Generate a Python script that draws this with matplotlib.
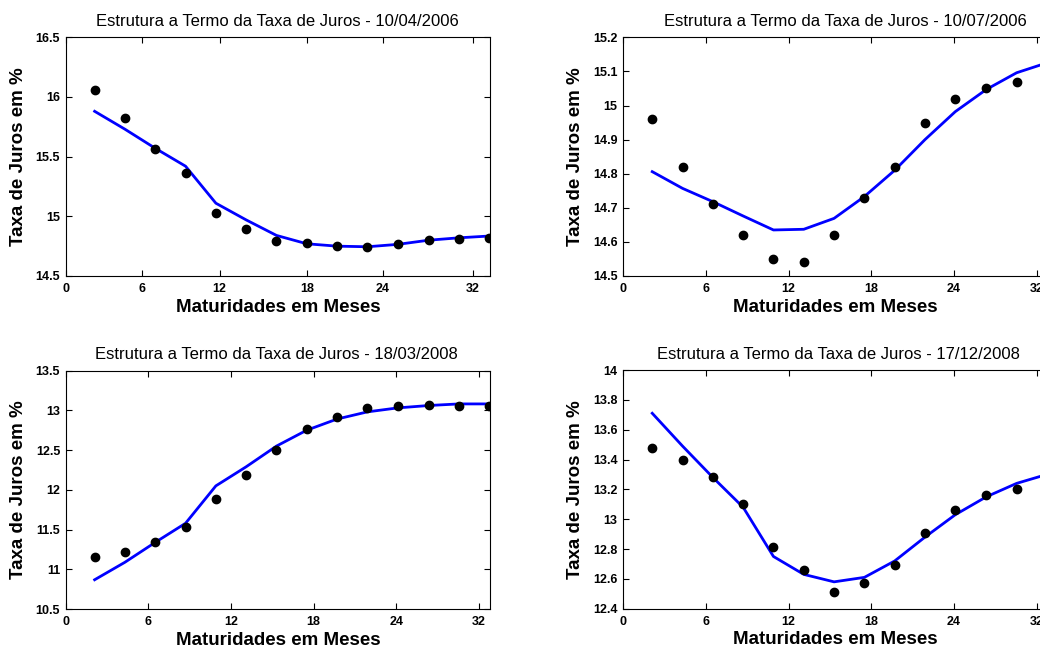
import numpy as np
import matplotlib
matplotlib.use("Agg")
import matplotlib.pyplot as plt
from matplotlib.ticker import FormatStrFormatter

plt.rcParams.update({"font.family": "Liberation Sans", "axes.linewidth": 0.8})

# maturities (x positions of the observed vertices, tick-scale units)
mat = [2.1, 4.3, 6.5, 8.7, 10.9, 13.1, 15.3, 17.5, 19.7, 21.9, 24.1, 26.35, 28.55, 30.75]

titles = ["Estrutura a Termo da Taxa de Juros - 10/04/2006",
          "Estrutura a Termo da Taxa de Juros - 10/07/2006",
          "Estrutura a Termo da Taxa de Juros - 18/03/2008",
          "Estrutura a Termo da Taxa de Juros - 17/12/2008"]

obs_1 = [16.06, 15.82, 15.56, 15.36, 15.03, 14.89, 14.79, 14.78, 14.75, 14.74, 14.77, 14.80, 14.81, 14.82]
fit_1 = [15.88, 15.73, 15.57, 15.42, 15.11, 14.97, 14.84, 14.77, 14.75, 14.745, 14.765, 14.80, 14.82, 14.835]

obs_2 = [14.96, 14.82, 14.71, 14.62, 14.55, 14.54, 14.62, 14.73, 14.82, 14.95, 15.02, 15.05, 15.07, 15.08]
fit_2 = [14.806, 14.757, 14.718, 14.676, 14.635, 14.637, 14.669, 14.733, 14.81, 14.90, 14.982, 15.047, 15.096, 15.125]

obs_3 = [11.15, 11.22, 11.35, 11.53, 11.89, 12.19, 12.50, 12.76, 12.92, 13.03, 13.06, 13.07, 13.05, 13.05]
fit_3 = [10.87, 11.09, 11.34, 11.58, 12.05, 12.29, 12.55, 12.75, 12.89, 12.98, 13.03, 13.06, 13.08, 13.08]

obs_4 = [13.48, 13.40, 13.28, 13.10, 12.815, 12.66, 12.51, 12.57, 12.69, 12.91, 13.06, 13.16, 13.20, 13.25]
fit_4 = [13.71, 13.49, 13.28, 13.08, 12.75, 12.63, 12.58, 12.61, 12.72, 12.88, 13.03, 13.15, 13.24, 13.30]

xtick_labels = ["0", "6", "12", "18", "24", "32"]
xticks_even = [0, 6, 12, 18, 24, 30]
xticks_first = [0, 5.51, 11.17, 17.53, 23.04, 29.57]   # first panel's ticks are unevenly placed

ylims = [(14.5, 16.5), (14.5, 15.2), (10.5, 13.5), (12.4, 14.0)]
ysteps = [0.5, 0.1, 0.5, 0.2]

fig = plt.figure(figsize=(10.4, 6.47), dpi=100)
W, H = 1040, 647
# right-hand panels run past the figure edge, as in the cropped original
boxes = [(65.7, 37.3), (623.3, 37.3), (65.7, 370.5), (623.3, 370.0)]
aw, ah = 424.3, 238.7
title_x = [0.5, 0.524, 0.496, 0.508]

obs = [obs_1, obs_2, obs_3, obs_4]
fit = [fit_1, fit_2, fit_3, fit_4]

for i in range(4):
    x0, y0 = boxes[i]
    ax = fig.add_axes([x0 / W, 1 - (y0 + ah) / H, aw / W, ah / H])
    ax.plot(mat, fit[i], color="#0000ff", lw=2.0, zorder=2)
    ax.plot(mat, obs[i], ls="none", marker="o", ms=6, color="black", zorder=3)
    ax.set_xlim(0, 30.8)
    lo, hi = ylims[i]
    ax.set_ylim(lo, hi)
    ax.set_yticks(np.arange(lo, hi + ysteps[i] / 2, ysteps[i]))
    ax.yaxis.set_major_formatter(FormatStrFormatter("%g"))
    ax.set_xticks(xticks_first if i == 0 else xticks_even)
    ax.set_xticklabels(xtick_labels)
    ax.tick_params(direction="in", length=4, width=0.8, top=True, right=True,
                   labelsize=9)
    ax.tick_params(axis="x", pad=5)
    ax.tick_params(axis="y", pad=4)
    for lab in ax.get_xticklabels() + ax.get_yticklabels():
        lab.set_fontweight("bold")
    ax.set_title(titles[i], fontsize=12, x=title_x[i], pad=8)
    ax.set_xlabel("Maturidades em Meses", fontsize=13.5, fontweight="bold")
    ax.set_ylabel("Taxa de Juros em %", fontsize=13.5, fontweight="bold")
    ax.xaxis.set_label_coords(0.5, -0.095)
    ax.yaxis.set_label_coords(-0.092, 0.5)

fig.savefig("out.png", dpi=100)
